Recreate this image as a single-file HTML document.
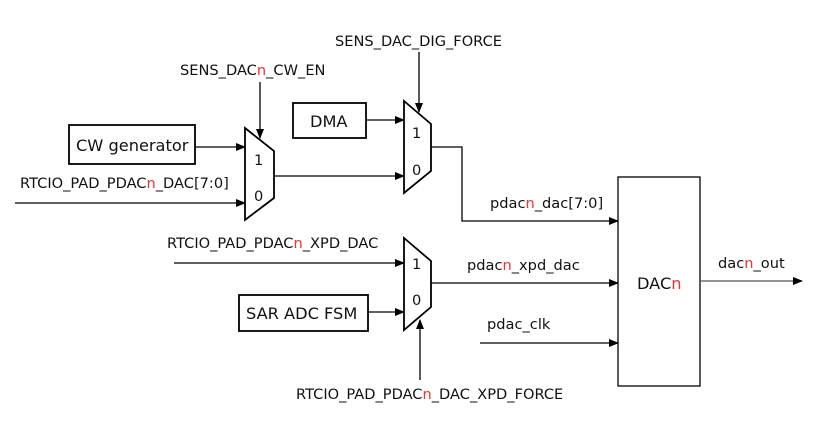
<!DOCTYPE html>
<html><head><meta charset="utf-8"><style>
html,body{margin:0;padding:0;background:#fff}
svg text{font-family:"DejaVu Sans","Liberation Sans",sans-serif;font-size:14.6px;fill:#111}
.r{fill:#e33}
</style></head><body>
<svg width="816" height="432" viewBox="0 0 816 432" xmlns="http://www.w3.org/2000/svg">
<defs><marker id="a" markerWidth="10" markerHeight="8" refX="9" refY="4" orient="auto" markerUnits="userSpaceOnUse"><path d="M0,0 L10,4 L0,8 z" fill="#000"/></marker></defs>
<g stroke="#000" stroke-width="1.3" fill="none">
<rect x="69" y="125" width="126" height="39" stroke-width="1.8"/>
<rect x="293" y="103" width="73" height="35" stroke-width="1.8"/>
<rect x="239" y="295" width="129" height="36" stroke-width="1.8"/>
<rect x="618" y="177" width="82" height="209"/>
<path d="M245,128 L274,151 L274,198 L245,220 Z" stroke-width="1.8"/>
<path d="M404,101 L431,124 L431,171 L404,193 Z" stroke-width="1.8"/>
<path d="M404,238 L431,261 L431,307 L404,330 Z" stroke-width="1.8"/>
<g marker-end="url(#a)">
<line x1="195" y1="147" x2="245" y2="147"/>
<line x1="15" y1="203" x2="245" y2="203"/>
<line x1="260" y1="82" x2="260" y2="138"/>
<line x1="419" y1="52" x2="419" y2="112"/>
<line x1="366" y1="120" x2="404" y2="120"/>
<line x1="274" y1="176" x2="404" y2="176"/>
<path d="M431,147 L462,147 L462,221 L618,221"/>
<line x1="174" y1="263" x2="404" y2="263"/>
<line x1="368" y1="312" x2="404" y2="312"/>
<line x1="431" y1="283" x2="618" y2="283"/>
<line x1="480" y1="343" x2="618" y2="343"/>
<line x1="420" y1="380" x2="420" y2="320"/>
<line x1="700" y1="281" x2="802" y2="281" stroke="#555"/>
</g>
</g>
<text x="76" y="151" style="font-size:16.2px">CW generator</text>
<text x="310" y="127" style="font-size:16.2px">DMA</text>
<text x="246" y="319" style="font-size:16.2px">SAR ADC FSM</text>
<text x="637" y="289" style="font-size:16.2px">DAC<tspan class="r">n</tspan></text>
<text x="254" y="165">1</text><text x="254" y="201">0</text>
<text x="412" y="138">1</text><text x="412" y="175">0</text>
<text x="412" y="269">1</text><text x="412" y="305">0</text>
<text x="180" y="75">SENS_DAC<tspan class="r">n</tspan>_CW_EN</text>
<text x="335" y="46">SENS_DAC_DIG_FORCE</text>
<text x="20" y="188">RTCIO_PAD_PDAC<tspan class="r">n</tspan>_DAC[7:0]</text>
<text x="490" y="208">pdac<tspan class="r">n</tspan>_dac[7:0]</text>
<text x="167" y="248">RTCIO_PAD_PDAC<tspan class="r">n</tspan>_XPD_DAC</text>
<text x="467" y="270">pdac<tspan class="r">n</tspan>_xpd_dac</text>
<text x="487" y="329">pdac_clk</text>
<text x="296" y="399">RTCIO_PAD_PDAC<tspan class="r">n</tspan>_DAC_XPD_FORCE</text>
<text x="718" y="268">dac<tspan class="r">n</tspan>_out</text>
</svg>
</body></html>
